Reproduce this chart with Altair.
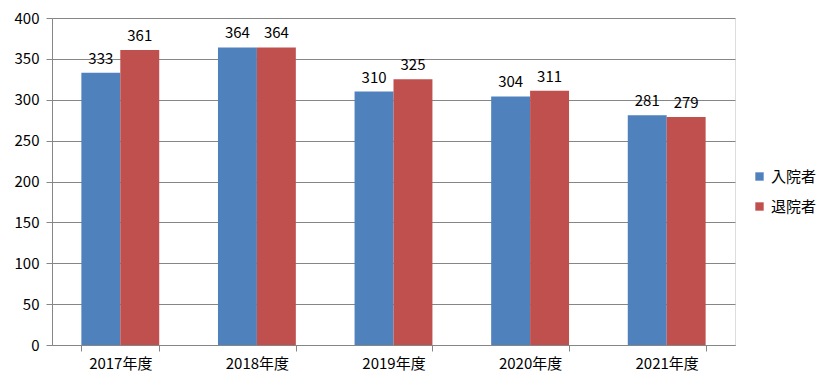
import altair as alt
import pandas as pd

years = ["2017年度", "2018年度", "2019年度", "2020年度", "2021年度"]
admitted = [333, 364, 310, 304, 281]
discharged = [361, 364, 325, 311, 279]
series = ["入院者", "退院者"]
colors = ["#4F81BD", "#C0504D"]

rows = []
for i, y in enumerate(years):
    rows.append({"year": y, "series": series[0], "value": admitted[i]})
    rows.append({"year": y, "series": series[1], "value": discharged[i]})
df = pd.DataFrame(rows)

FONT = "Noto Sans CJK JP"

x = alt.X("year:N", sort=years, title=None,
          scale=alt.Scale(paddingInner=0.43, paddingOuter=0.215),
          axis=alt.Axis(labelAngle=0, labelFontSize=15, labelColor="#000000",
                        labelFont=FONT, tickBand="extent", tickSize=6,
                        tickColor="#868686", domainColor="#868686",
                        labelPadding=5, grid=False))
xo = alt.XOffset("series:N", sort=series, scale=alt.Scale(paddingInner=0, paddingOuter=0))
y = alt.Y("value:Q", title=None,
          scale=alt.Scale(domain=[0, 400], nice=False),
          axis=alt.Axis(values=list(range(0, 401, 50)), labelFontSize=15,
                        labelColor="#000000", labelFont=FONT, tickSize=6,
                        tickColor="#868686", domainColor="#868686",
                        gridColor="#868686", labelPadding=7))

bars = alt.Chart(df).mark_bar().encode(
    x=x, xOffset=xo, y=y,
    color=alt.Color("series:N", sort=series,
                    scale=alt.Scale(domain=series, range=colors),
                    legend=alt.Legend(title=None, orient="none", legendX=700, legendY=151,
                                      symbolType="square", symbolSize=70,
                                      symbolStrokeWidth=0, labelFontSize=15,
                                      labelFont=FONT, labelColor="#000000",
                                      rowPadding=14, labelOffset=4)),
)

labels = alt.Chart(df).mark_text(baseline="bottom", dy=-6, fontSize=15,
                                 font=FONT, color="#000000").encode(
    x=x, xOffset=xo, y=y, text=alt.Text("value:Q"),
)

chart = (bars + labels).properties(
    width=683, height=327,
    autosize=alt.AutoSizeParams(type="none"),
    padding={"left": 44, "top": 10, "right": 90, "bottom": 34},
).configure_view(stroke=None).configure(background="#ffffff")

chart.save("out.html", embed_options={"renderer": "svg", "actions": False})
